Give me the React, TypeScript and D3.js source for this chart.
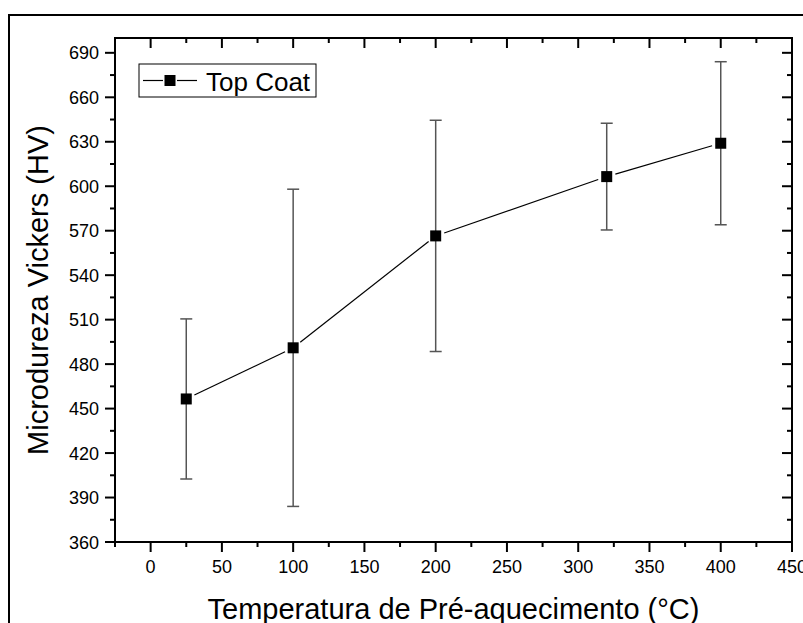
import React from "react";
import * as d3 from "d3";

const temperatures = [25, 100, 200, 320, 400];
const hardness = [456.5, 491, 566.5, 606.5, 629];
const errors = [54, 107, 78, 36, 55];
const xTicks = [0, 50, 100, 150, 200, 250, 300, 350, 400, 450];
const yTicks = [360, 390, 420, 450, 480, 510, 540, 570, 600, 630, 660, 690];
const seriesName = "Top Coat";
const xTitle = "Temperatura de Pré-aquecimento (°C)";
const yTitle = "Microdureza Vickers (HV)";

const W = 803, H = 623;
const L = 115, R = 792, T = 38, B = 542;
const FONT = "'Liberation Sans', Arial, sans-serif";

export default function App() {
  const x = d3.scaleLinear().domain([-25, 450]).range([L, R]);
  const y = d3.scaleLinear().domain([360, 700]).range([B, T]);
  const xMinor = d3.range(-25, 451, 25).filter((v) => v % 50 !== 0);
  const yMinor = d3.range(375, 700, 30);
  const pts = temperatures.map((t, i) => ({ px: x(t), py: y(hardness[i]), e: errors[i], v: hardness[i] }));
  const gap = 9;
  const segs = pts.slice(1).map((p, i) => {
    const a = pts[i];
    const dx = p.px - a.px, dy = p.py - a.py;
    const len = Math.hypot(dx, dy);
    const ux = dx / len, uy = dy / len;
    return { x1: a.px + ux * gap, y1: a.py + uy * gap, x2: p.px - ux * gap, y2: p.py - uy * gap };
  });
  const ms = 11;
  return (
    <svg width={W} height={H} style={{ position: "absolute", left: 0, top: 0, background: "#fff" }} fontFamily={FONT}>
      <rect x={0} y={0} width={W} height={H} fill="#fff" />
      <rect x={9} y={15} width={W + 20} height={H + 20} fill="none" stroke="#000" strokeWidth={2} />
      {/* error bars */}
      {pts.map((p, i) => (
        <g key={"e" + i} stroke="#555" strokeWidth={1.5}>
          <line x1={p.px} x2={p.px} y1={y(p.v + p.e)} y2={y(p.v - p.e)} />
          <line x1={p.px - 6} x2={p.px + 6} y1={y(p.v + p.e)} y2={y(p.v + p.e)} />
          <line x1={p.px - 6} x2={p.px + 6} y1={y(p.v - p.e)} y2={y(p.v - p.e)} />
        </g>
      ))}
      {segs.map((s, i) => (
        <line key={"s" + i} {...s} stroke="#000" strokeWidth={1.2} />
      ))}
      {pts.map((p, i) => (
        <rect key={"m" + i} x={p.px - ms / 2} y={p.py - ms / 2} width={ms} height={ms} fill="#000" />
      ))}
      {/* frame */}
      <rect x={L} y={T} width={R - L} height={B - T} fill="none" stroke="#000" strokeWidth={2} />
      {/* x ticks */}
      {xTicks.map((v) => (
        <g key={"xt" + v} stroke="#000" strokeWidth={2}>
          <line x1={x(v)} x2={x(v)} y1={B} y2={B + 10} />
          <line x1={x(v)} x2={x(v)} y1={T} y2={T + 10} />
        </g>
      ))}
      {xMinor.map((v) => (
        <g key={"xm" + v} stroke="#000" strokeWidth={2}>
          <line x1={x(v)} x2={x(v)} y1={B} y2={B + 5} />
          <line x1={x(v)} x2={x(v)} y1={T} y2={T + 5} />
        </g>
      ))}
      {xTicks.map((v) => (
        <text key={"xl" + v} x={x(v)} y={573} fontSize={18} textAnchor="middle">{v}</text>
      ))}
      {/* y ticks */}
      {yTicks.map((v) => (
        <g key={"yt" + v} stroke="#000" strokeWidth={2}>
          <line x1={L - 10} x2={L} y1={y(v)} y2={y(v)} />
          <line x1={R - 10} x2={R} y1={y(v)} y2={y(v)} />
        </g>
      ))}
      {yMinor.map((v) => (
        <g key={"ym" + v} stroke="#000" strokeWidth={2}>
          <line x1={L - 5} x2={L} y1={y(v)} y2={y(v)} />
          <line x1={R - 5} x2={R} y1={y(v)} y2={y(v)} />
        </g>
      ))}
      {yTicks.map((v) => (
        <text key={"yl" + v} x={99} y={y(v) + 6.5} fontSize={18} textAnchor="end">{v}</text>
      ))}
      {/* titles */}
      <text x={(L + R) / 2} y={619} fontSize={29} textAnchor="middle">{xTitle}</text>
      <text transform={`translate(48,${(T + B) / 2}) rotate(-90)`} fontSize={29} textAnchor="middle">{yTitle}</text>
      {/* legend */}
      <rect x={139} y={64} width={177} height={33} fill="#fff" stroke="#000" strokeWidth={1} />
      <line x1={143} x2={163} y1={80.5} y2={80.5} stroke="#000" strokeWidth={1.2} />
      <line x1={177} x2={197} y1={80.5} y2={80.5} stroke="#000" strokeWidth={1.2} />
      <rect x={170 - ms / 2} y={80.5 - ms / 2} width={ms} height={ms} fill="#000" />
      <text x={206} y={90.5} fontSize={26}>{seriesName}</text>
    </svg>
  );
}
